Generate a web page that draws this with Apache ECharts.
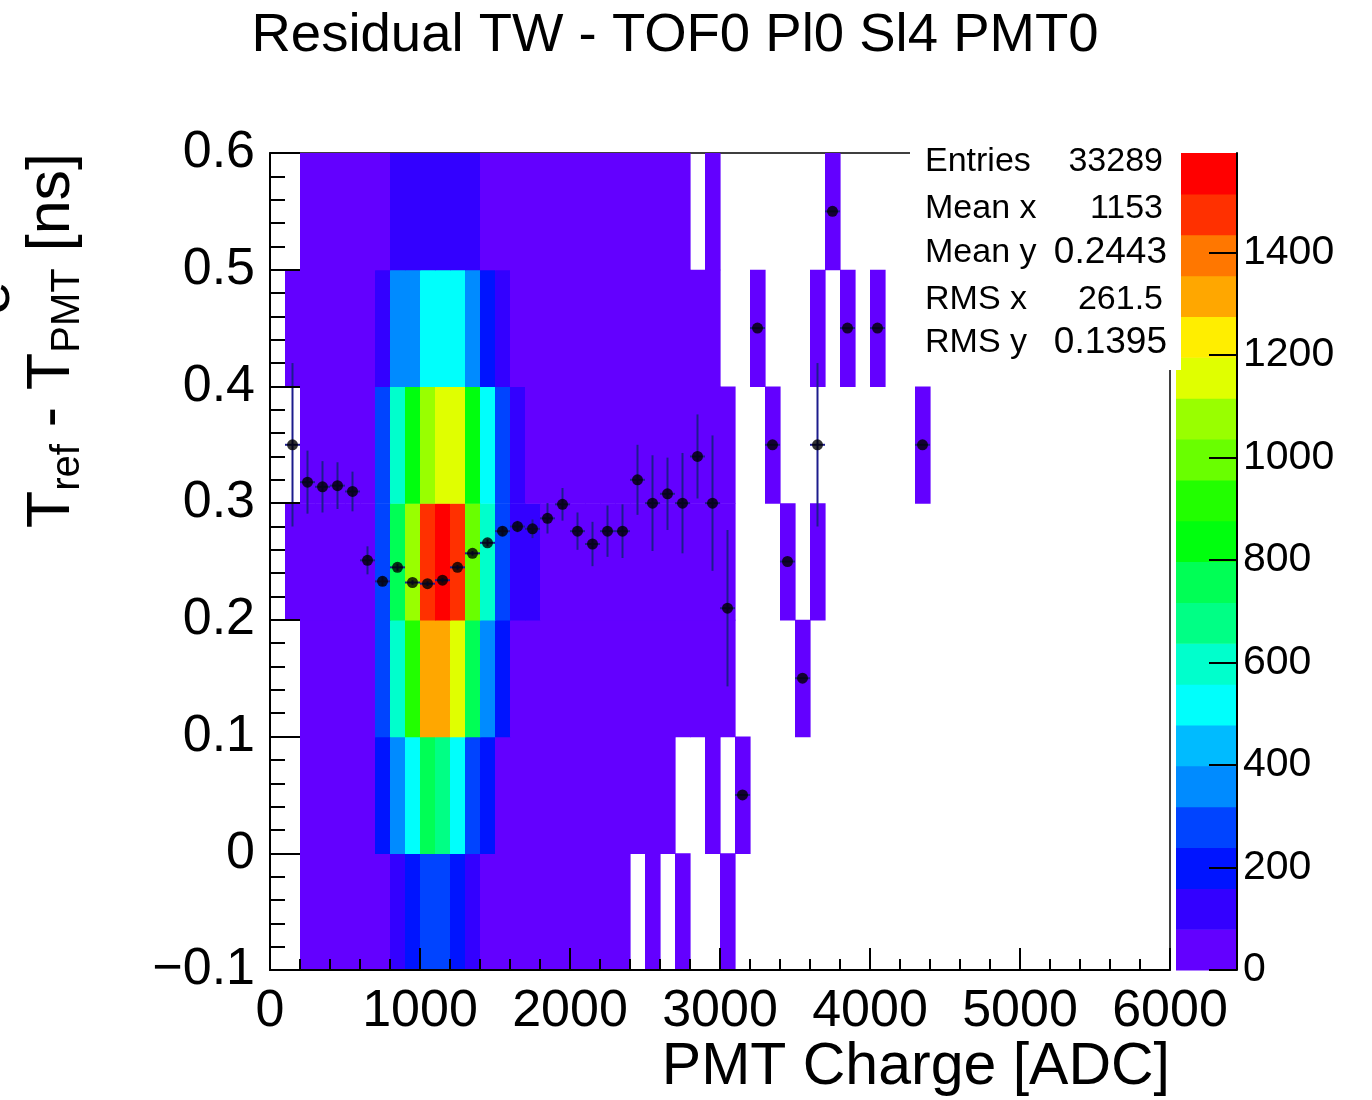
<!DOCTYPE html>
<html>
<head>
<meta charset="utf-8">
<script src="https://cdn.jsdelivr.net/npm/echarts@6/dist/echarts.min.js"></script>
<style>
html,body{margin:0;padding:0;background:#ffffff;}
#chart{width:1372px;height:1100px;}
</style>
</head>
<body>
<div id="chart"></div>
<script>
// ---------------- data ----------------
// 2D histogram: x bins of 100 ADC (bin i = [100*i, 100*i+100]), y rows of 0.1 ns.
// value 0 = empty bin (not drawn). Bins beyond index 43 are empty.
const X_BIN = 100;
const Y_BIN = 0.1;
const rowLows = [-0.1, 0.0, 0.1, 0.2, 0.3, 0.4, 0.5];

const row_m01_00 = [0,0, 2,4,6,10,18,40, 100,180,250,260,190,110, 45,30,20,14,10,7,5,4,3,2, 0,1,0,1,0,0,1, 0,0,0,0,0,0,0,0,0,0,0,0,0];
const row_00_01  = [0,0, 3,5,8,14,25, 190,350,510,740,680,500,260,180, 45,30,20,15,10,8,6,5,4,3,2,1, 0,0,1,0,1, 0,0,0,0,0,0,0,0,0,0,0,0];
const row_01_02  = [0,0, 5,8,12,20,38, 260,590,910,1320,1310,1160,750,360,200, 60,40,30,22,16,12,10,8,6,5,4,3,2,2,1, 0,0,0,0,1, 0,0,0,0,0,0,0,0];
const row_02_03  = [0,2, 8,12,20,35,65, 300,760,1070,1480,1594,1470,1000,610,280,130,95, 70,55,42,32,25,20,16,12,9,7,5,4,3, 0,0,0,1,0,1, 0,0,0,0,0,0,0];
const row_03_04  = [0,0, 8,12,20,32,60, 270,600,840,1080,1160,1150,830,520,290,110, 68,50,40,30,24,18,14,12,9,7,5,4,3,2, 0,0,1, 0,0,0,0,0,0,0,0,0,1];
const row_04_05  = [0,2, 6,10,16,28,55, 130,350,390,500,540,510,370,210,115, 70,50,38,28,20,15,12,9,7,5,4,3,2,2, 0,0,1,0,0,0,1,0,1,0,1, 0,0,0];
const row_05_06  = [0,0, 8,10,12,18,30,55, 110,125,135,140,130,105, 60,40,28,20,15,12,10,8,6,5,4,3,3,2, 0,1, 0,0,0,0,0,0,0,1, 0,0,0,0,0,0];
const rows = [row_m01_00, row_00_01, row_01_02, row_02_03, row_03_04, row_04_05, row_05_06];

// profile (mean y per x bin) with errors
const profX   = [150,250,350,450,550,650,750,850,950,1050,1150,1250,1350,1450,1550,1650,1750,1850,1950,2050,2150,2250,2350,2450,2550,2650,2750,2850,2950,3050,3150,3250,3350,3450,3550,3650,3750,3850,4050,4350];
const profY   = [0.350,0.318,0.314,0.315,0.310,0.251,0.233,0.245,0.232,0.231,0.234,0.245,0.257,0.266,0.276,0.280,0.278,0.287,0.299,0.276,0.265,0.276,0.276,0.320,0.300,0.308,0.300,0.340,0.300,0.210,0.05,0.45,0.35,0.25,0.15,0.35,0.55,0.45,0.45,0.35];
const profErr = [0.070,0.027,0.022,0.020,0.017,0.012,0.004,0.003,0.002,0.002,0.002,0.002,0.002,0.003,0.004,0.005,0.008,0.013,0.014,0.016,0.019,0.022,0.023,0.030,0.041,0.031,0.043,0.036,0.058,0.067,0,0,0,0,0,0.070,0,0,0,0];

// colour scale
const zMax = 1594;
const nLevels = 20;
const colorTicks = [0,200,400,600,800,1000,1200,1400];

// axis ticks
const xMin = 0, xMax = 6000, xStep = 1000;
const yMin = -0.1, yMax = 0.6, yStep = 0.1;

// stats box
const statLabels = ['Entries','Mean x','Mean y','RMS x','RMS y'];
const statValues = ['33289','1153','0.2443','261.5','0.1395'];

const titleText = 'Residual TW - TOF0 Pl0 Sl4 PMT0';
const xTitle = 'PMT Charge [ADC]';

// ---------------- style ----------------
const FONT = '"Liberation Sans", Arial, Helvetica, sans-serif';
const palette = ['#6300ff','#3300ff','#0014ff','#0044ff','#008bff','#00bbff','#00fffc','#00ffcc','#00ff85','#00ff55',
                 '#00ff0e','#22ff00','#69ff00','#99ff00','#e0ff00','#ffee00','#ffa700','#ff7700','#ff3000','#ff0000'];
const ERR_COLOR = '#1c1c8c';
const statRowY = [162, 209, 253, 300, 343];

// ---------------- build ----------------
const cells = [];
rows.forEach((r, ri) => {
  r.forEach((v, bi) => { if (v > 0) cells.push([bi * X_BIN, rowLows[ri], v]); });
});
const step = zMax / nLevels;
const pieces = [];
const barData = [];
for (let j = 0; j < nLevels; j++) {
  const p = { gte: j * step, color: palette[j] };
  if (j < nLevels - 1) p.lt = (j + 1) * step; else p.lte = zMax + 1e-6;
  pieces.push(p);
  barData.push([j * step, (j + 1) * step, (j + 0.5) * step]);
}
const prof = profX.map((x, i) => [x, profY[i], profErr[i]]);
const profPts = profX.map((x, i) => [x, profY[i]]);

const chart = echarts.init(document.getElementById('chart'), null, { renderer: 'canvas' });

const axisLine = { show: true, onZero: false, lineStyle: { color: '#000', width: 2 } };
const plain = v => String(Math.round(v));

const option = {
  animation: false,
  backgroundColor: '#ffffff',
  textStyle: { fontFamily: FONT },
  grid: [
    { left: 270, top: 153, width: 900, height: 817, show: true, borderColor: '#000', borderWidth: 1.5, backgroundColor: 'transparent' },
    { left: 1176, top: 153, width: 61, height: 817, show: false }
  ],
  xAxis: [
    { type: 'value', gridIndex: 0, min: xMin, max: xMax, interval: xStep, z: 10,
      axisLine: axisLine,
      axisTick: { show: true, inside: true, length: 22, lineStyle: { color: '#000', width: 2 } },
      minorTick: { show: true, splitNumber: 5, length: 11, lineStyle: { color: '#000', width: 2 } },
      splitLine: { show: false }, minorSplitLine: { show: false },
      axisLabel: { color: '#000', fontSize: 52, fontFamily: FONT, margin: 16, formatter: plain } },
    { type: 'value', gridIndex: 1, min: 0, max: 1, show: false }
  ],
  yAxis: [
    { type: 'value', gridIndex: 0, min: yMin, max: yMax, interval: yStep, z: 10,
      axisLine: axisLine,
      axisTick: { show: true, inside: true, length: 30, lineStyle: { color: '#000', width: 2 } },
      minorTick: { show: true, splitNumber: 5, length: 15, lineStyle: { color: '#000', width: 2 } },
      splitLine: { show: false }, minorSplitLine: { show: false },
      axisLabel: { color: '#000', fontSize: 52, fontFamily: FONT, margin: 15,
        formatter: v => { const r = Math.round(v * 10) / 10; if (r === 0) return '0'; return (r < 0 ? '\u2212' : '') + Math.abs(r).toFixed(1); } } },
    { type: 'value', gridIndex: 1, min: 0, max: zMax, position: 'right', z: 10,
      axisLine: { show: true, onZero: false, lineStyle: { color: '#000', width: 2 } },
      axisTick: { show: true, inside: true, length: 28, customValues: colorTicks, lineStyle: { color: '#000', width: 2 } },
      splitLine: { show: false },
      axisLabel: { color: '#000', fontSize: 41, fontFamily: FONT, margin: 6, customValues: colorTicks, formatter: plain } }
  ],
  visualMap: {
    type: 'piecewise', show: false, dimension: 2, seriesIndex: [0, 3], pieces: pieces
  },
  series: [
    { type: 'custom', name: 'hist', xAxisIndex: 0, yAxisIndex: 0, data: cells, z: 1, clip: true,
      encode: { x: 0, y: 1 },
      renderItem: (params, api) => {
        const x0 = api.value(0), y0 = api.value(1);
        const a = api.coord([x0, y0]);
        const b = api.coord([x0 + X_BIN, y0 + Y_BIN]);
        return { type: 'rect', shape: { x: a[0], y: b[1], width: b[0] - a[0] + 0.6, height: a[1] - b[1] + 0.6 },
                 style: { fill: api.visual('color') } };
      } },
    { type: 'custom', name: 'err', xAxisIndex: 0, yAxisIndex: 0, data: prof, z: 3,
      encode: { x: 0, y: 1 },
      renderItem: (params, api) => {
        const x = api.value(0), y = api.value(1), e = api.value(2);
        const c = api.coord([x, y]);
        const l = api.coord([x - X_BIN / 2, y]);
        const r = api.coord([x + X_BIN / 2, y]);
        const t = api.coord([x, y + e]);
        const bt = api.coord([x, y - e]);
        return { type: 'group', children: [
          { type: 'line', shape: { x1: l[0], y1: c[1], x2: r[0], y2: c[1] }, style: { stroke: ERR_COLOR, lineWidth: 2 } },
          { type: 'line', shape: { x1: c[0], y1: t[1], x2: c[0], y2: bt[1] }, style: { stroke: ERR_COLOR, lineWidth: 2 } }
        ] };
      } },
    { type: 'scatter', name: 'profile', xAxisIndex: 0, yAxisIndex: 0, data: profPts, z: 4,
      symbol: 'circle', symbolSize: 11, itemStyle: { color: '#000' } },
    { type: 'custom', name: 'palette', xAxisIndex: 1, yAxisIndex: 1, data: barData, z: 1,
      encode: { y: [0, 1] },
      renderItem: (params, api) => {
        const a = api.coord([0, api.value(0)]);
        const b = api.coord([1, api.value(1)]);
        return { type: 'rect', shape: { x: a[0], y: b[1], width: b[0] - a[0], height: a[1] - b[1] + 0.6 },
                 style: { fill: api.visual('color') } };
      } }
  ],
  graphic: [
    { type: 'text', x: 675, y: 36, z: 20,
      style: { text: titleText, font: '54.5px ' + FONT, fill: '#000', align: 'center', verticalAlign: 'middle' } },
    { type: 'text', x: 1170, y: 1068, z: 20,
      style: { text: xTitle, font: '59px ' + FONT, fill: '#000', align: 'right', verticalAlign: 'middle' } },
    { type: 'text', x: 52, y: 153, rotation: Math.PI / 2, z: 20,
      style: { text: '{m|T}{s|ref}{m| - T}{s|PMT}{m| [ns]}', align: 'right', verticalAlign: 'middle', fill: '#000',
        rich: { m: { fontSize: 61, fontFamily: FONT, fill: '#000' },
                s: { fontSize: 40, fontFamily: FONT, fill: '#000', padding: [32, 0, 0, 0] } } } },
    { type: 'text', x: -8, y: 298, rotation: Math.PI / 2, z: 20,
      style: { text: 'e', font: '61px ' + FONT, fill: '#000', align: 'center', verticalAlign: 'middle' } },
    { type: 'group', z: 30, children: [
      { type: 'rect', shape: { x: 910, y: 136, width: 271, height: 234 }, style: { fill: '#fff' }, z: 30 },
      ...statLabels.map((s, i) => ({ type: 'text', x: 925, y: statRowY[i], z: 31,
        style: { text: s, font: '34px ' + FONT, fill: '#000', align: 'left', verticalAlign: 'middle' } })),
      ...statValues.map((s, i) => ({ type: 'text', x: [1163, 1163, 1167, 1163, 1167][i], y: statRowY[i], z: 31,
        style: { text: s, font: (i === 2 || i === 4 ? '37px ' : '34px ') + FONT, fill: '#000', align: 'right', verticalAlign: 'middle' } }))
    ] }
  ]
};
chart.setOption(option);
</script>
</body>
</html>
